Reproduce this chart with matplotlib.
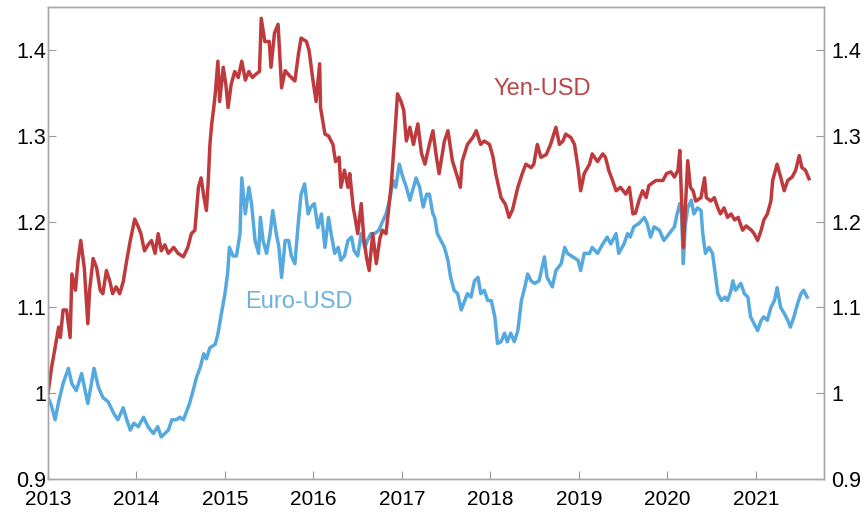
import matplotlib
matplotlib.use("Agg")
import matplotlib.pyplot as plt

# fractional years and index levels
yen_t = [2013.00, 2013.04, 2013.08, 2013.12, 2013.14, 2013.17, 2013.21, 2013.25, 2013.27, 2013.31,
         2013.34, 2013.37, 2013.41, 2013.45, 2013.47, 2013.51, 2013.55, 2013.59, 2013.62, 2013.66,
         2013.70, 2013.73, 2013.77, 2013.81, 2013.85, 2013.89, 2013.93, 2013.98, 2014.02, 2014.05,
         2014.09, 2014.13, 2014.17, 2014.21, 2014.245, 2014.28, 2014.32, 2014.36, 2014.42, 2014.47,
         2014.53, 2014.58, 2014.62, 2014.66, 2014.70, 2014.73, 2014.76, 2014.79, 2014.81, 2014.83,
         2014.85, 2014.87, 2014.89, 2014.92, 2014.94, 2014.98, 2015.01, 2015.035, 2015.07, 2015.11,
         2015.15, 2015.19, 2015.23, 2015.27, 2015.31, 2015.35, 2015.39, 2015.41, 2015.45, 2015.50,
         2015.52, 2015.56, 2015.60, 2015.64, 2015.68, 2015.73, 2015.79, 2015.83, 2015.86, 2015.92,
         2015.95, 2015.99, 2016.03, 2016.07, 2016.08, 2016.13, 2016.17, 2016.22, 2016.25, 2016.29,
         2016.31, 2016.35, 2016.39, 2016.41, 2016.45, 2016.47, 2016.50, 2016.54, 2016.57, 2016.60,
         2016.63, 2016.67, 2016.71, 2016.75, 2016.78, 2016.82, 2016.84, 2016.88, 2016.92, 2016.95,
         2016.99, 2017.02, 2017.05, 2017.09, 2017.13, 2017.18, 2017.22, 2017.26, 2017.31, 2017.35,
         2017.39, 2017.42, 2017.48, 2017.52, 2017.57, 2017.63, 2017.66, 2017.68, 2017.74, 2017.80,
         2017.84, 2017.89, 2017.93, 2017.99, 2018.03, 2018.06, 2018.12, 2018.17, 2018.21, 2018.25,
         2018.31, 2018.36, 2018.40, 2018.46, 2018.49, 2018.53, 2018.57, 2018.63, 2018.68, 2018.74,
         2018.78, 2018.82, 2018.85, 2018.91, 2018.95, 2018.99, 2019.02, 2019.06, 2019.12, 2019.15,
         2019.21, 2019.27, 2019.30, 2019.34, 2019.38, 2019.42, 2019.47, 2019.53, 2019.57, 2019.61,
         2019.64, 2019.68, 2019.72, 2019.76, 2019.79, 2019.87, 2019.95, 2019.99, 2020.04, 2020.08,
         2020.12, 2020.14, 2020.16, 2020.18, 2020.20, 2020.23, 2020.26, 2020.29, 2020.32, 2020.38,
         2020.42, 2020.44, 2020.49, 2020.53, 2020.57, 2020.60, 2020.64, 2020.68, 2020.72, 2020.76,
         2020.80, 2020.85, 2020.89, 2020.95, 2020.98, 2021.02, 2021.06, 2021.09, 2021.13, 2021.17,
         2021.19, 2021.24, 2021.28, 2021.32, 2021.36, 2021.41, 2021.45, 2021.49, 2021.52, 2021.56,
         2021.60]
yen_v = [1.000, 1.030, 1.053, 1.077, 1.065, 1.097, 1.097, 1.065, 1.139, 1.120,
         1.155, 1.178, 1.146, 1.081, 1.120, 1.157, 1.146, 1.120, 1.116, 1.143,
         1.130, 1.116, 1.124, 1.116, 1.130, 1.155, 1.178, 1.203, 1.194, 1.186,
         1.166, 1.173, 1.178, 1.163, 1.186, 1.166, 1.173, 1.163, 1.170, 1.163,
         1.159, 1.170, 1.186, 1.190, 1.240, 1.251, 1.230, 1.213, 1.245, 1.290,
         1.314, 1.330, 1.349, 1.387, 1.340, 1.380, 1.360, 1.333, 1.360, 1.375,
         1.368, 1.387, 1.365, 1.375, 1.368, 1.372, 1.375, 1.437, 1.410, 1.410,
         1.380, 1.420, 1.430, 1.356, 1.376, 1.370, 1.364, 1.395, 1.414, 1.410,
         1.400, 1.368, 1.340, 1.384, 1.333, 1.302, 1.300, 1.290, 1.270, 1.275,
         1.240, 1.260, 1.240, 1.256, 1.216, 1.205, 1.186, 1.221, 1.180, 1.158,
         1.143, 1.186, 1.151, 1.180, 1.190, 1.186, 1.205, 1.244, 1.302, 1.349,
         1.340, 1.330, 1.294, 1.310, 1.290, 1.314, 1.280, 1.267, 1.290, 1.306,
         1.275, 1.256, 1.294, 1.306, 1.271, 1.251, 1.240, 1.270, 1.290, 1.298,
         1.306, 1.290, 1.294, 1.290, 1.275, 1.256, 1.228, 1.220, 1.205, 1.214,
         1.240, 1.256, 1.267, 1.263, 1.267, 1.290, 1.275, 1.278, 1.290, 1.310,
         1.290, 1.294, 1.302, 1.298, 1.290, 1.263, 1.236, 1.256, 1.267, 1.279,
         1.270, 1.279, 1.275, 1.259, 1.248, 1.236, 1.240, 1.232, 1.240, 1.209,
         1.210, 1.225, 1.236, 1.228, 1.242, 1.248, 1.248, 1.256, 1.258, 1.252,
         1.260, 1.283, 1.225, 1.170, 1.210, 1.271, 1.240, 1.236, 1.224, 1.228,
         1.251, 1.228, 1.224, 1.228, 1.216, 1.209, 1.216, 1.205, 1.209, 1.202,
         1.205, 1.190, 1.195, 1.190, 1.186, 1.178, 1.190, 1.202, 1.209, 1.224,
         1.248, 1.267, 1.252, 1.236, 1.248, 1.252, 1.260, 1.277, 1.263, 1.260,
         1.250]

eur_t = [2013.00, 2013.04, 2013.08, 2013.12, 2013.17, 2013.23, 2013.27, 2013.32, 2013.38, 2013.42,
         2013.45, 2013.49, 2013.52, 2013.57, 2013.62, 2013.68, 2013.74, 2013.79, 2013.85, 2013.89,
         2013.93, 2013.97, 2014.02, 2014.08, 2014.13, 2014.19, 2014.24, 2014.28, 2014.32, 2014.36,
         2014.40, 2014.45, 2014.49, 2014.53, 2014.57, 2014.60, 2014.64, 2014.68, 2014.72, 2014.76,
         2014.79, 2014.83, 2014.89, 2014.92, 2014.96, 2015.00, 2015.03, 2015.05, 2015.09, 2015.13,
         2015.17, 2015.19, 2015.23, 2015.27, 2015.30, 2015.34, 2015.38, 2015.40, 2015.43, 2015.47,
         2015.51, 2015.54, 2015.58, 2015.61, 2015.64, 2015.68, 2015.72, 2015.75, 2015.79, 2015.83,
         2015.86, 2015.90, 2015.94, 2015.97, 2016.01, 2016.05, 2016.09, 2016.13, 2016.17, 2016.20,
         2016.24, 2016.28, 2016.31, 2016.35, 2016.39, 2016.43, 2016.46, 2016.50, 2016.54, 2016.58,
         2016.61, 2016.65, 2016.69, 2016.74, 2016.78, 2016.82, 2016.86, 2016.90, 2016.93, 2016.97,
         2017.01, 2017.05, 2017.09, 2017.13, 2017.16, 2017.20, 2017.24, 2017.28, 2017.31, 2017.35,
         2017.37, 2017.40, 2017.44, 2017.48, 2017.52, 2017.55, 2017.59, 2017.63, 2017.67, 2017.71,
         2017.74, 2017.78, 2017.82, 2017.86, 2017.89, 2017.93, 2017.97, 2018.01, 2018.05, 2018.08,
         2018.12, 2018.16, 2018.19, 2018.23, 2018.27, 2018.31, 2018.35, 2018.39, 2018.42, 2018.46,
         2018.50, 2018.55, 2018.61, 2018.64, 2018.70, 2018.74, 2018.80, 2018.84, 2018.87, 2018.93,
         2018.99, 2019.02, 2019.06, 2019.12, 2019.15, 2019.21, 2019.27, 2019.32, 2019.36, 2019.42,
         2019.45, 2019.51, 2019.55, 2019.58, 2019.62, 2019.68, 2019.74, 2019.77, 2019.81, 2019.85,
         2019.91, 2019.96, 2020.02, 2020.08, 2020.11, 2020.14, 2020.16, 2020.18, 2020.20, 2020.23,
         2020.27, 2020.30, 2020.34, 2020.38, 2020.40, 2020.43, 2020.47, 2020.51, 2020.54, 2020.57,
         2020.61, 2020.65, 2020.68, 2020.72, 2020.74, 2020.77, 2020.83, 2020.87, 2020.91, 2020.94,
         2020.98, 2021.02, 2021.06, 2021.09, 2021.13, 2021.17, 2021.21, 2021.24, 2021.28, 2021.32,
         2021.36, 2021.39, 2021.43, 2021.47, 2021.51, 2021.54, 2021.58]
eur_v = [0.995, 0.985, 0.969, 0.990, 1.011, 1.029, 1.011, 1.003, 1.023, 1.003,
         0.988, 1.011, 1.029, 1.007, 0.995, 0.990, 0.977, 0.969, 0.983, 0.969,
         0.957, 0.965, 0.961, 0.972, 0.961, 0.953, 0.961, 0.949, 0.953, 0.957,
         0.969, 0.969, 0.972, 0.969, 0.980, 0.988, 1.003, 1.019, 1.030, 1.046,
         1.040, 1.053, 1.057, 1.069, 1.093, 1.116, 1.140, 1.170, 1.160, 1.160,
         1.186, 1.251, 1.209, 1.240, 1.221, 1.178, 1.163, 1.205, 1.178, 1.163,
         1.186, 1.213, 1.186, 1.170, 1.135, 1.178, 1.178, 1.160, 1.151, 1.200,
         1.232, 1.244, 1.209, 1.217, 1.221, 1.193, 1.209, 1.170, 1.205, 1.186,
         1.163, 1.170, 1.155, 1.160, 1.178, 1.182, 1.166, 1.160, 1.186, 1.170,
         1.178, 1.186, 1.186, 1.190, 1.200, 1.209, 1.225, 1.248, 1.240, 1.267,
         1.252, 1.240, 1.225, 1.240, 1.251, 1.240, 1.217, 1.232, 1.232, 1.209,
         1.205, 1.186, 1.178, 1.170, 1.155, 1.135, 1.120, 1.116, 1.097, 1.108,
         1.116, 1.112, 1.131, 1.135, 1.116, 1.120, 1.108, 1.108, 1.089, 1.058,
         1.060, 1.070, 1.060, 1.070, 1.060, 1.073, 1.108, 1.124, 1.139, 1.131,
         1.128, 1.131, 1.159, 1.135, 1.124, 1.143, 1.151, 1.170, 1.163, 1.159,
         1.155, 1.143, 1.163, 1.163, 1.170, 1.163, 1.174, 1.182, 1.174, 1.186,
         1.163, 1.174, 1.186, 1.182, 1.194, 1.198, 1.205, 1.198, 1.182, 1.194,
         1.190, 1.178, 1.186, 1.194, 1.209, 1.221, 1.209, 1.151, 1.194, 1.216,
         1.225, 1.209, 1.216, 1.213, 1.186, 1.163, 1.170, 1.163, 1.140, 1.116,
         1.108, 1.112, 1.108, 1.120, 1.131, 1.120, 1.128, 1.116, 1.112, 1.089,
         1.081, 1.073, 1.085, 1.089, 1.085, 1.100, 1.108, 1.123, 1.100, 1.093,
         1.085, 1.077, 1.089, 1.104, 1.116, 1.120, 1.112]

years = list(range(2013, 2022))
yticks = [0.9, 1.0, 1.1, 1.2, 1.3, 1.4]
ytick_labels = ["0.9", "1", "1.1", "1.2", "1.3", "1.4"]

YEN_COLOR = "#bf3a3c"
EUR_COLOR = "#55a9de"
GRID_GRAY = "#9a9a9a"

plt.rcParams["font.family"] = ["Liberation Sans", "DejaVu Sans"]

fig = plt.figure(figsize=(8.65, 5.13), dpi=100)
ax = fig.add_axes([0.0555, 0.0663, 0.8971, 0.9197])

ax.plot(eur_t, eur_v, color=EUR_COLOR, lw=2.5, solid_joinstyle="round")
ax.plot(yen_t, yen_v, color=YEN_COLOR, lw=2.5, solid_joinstyle="round")

ax.text(2018.59, 1.355, "Yen-USD", color="#b9474a", fontsize=17, ha="center", va="center")
ax.text(2015.83, 1.106, "Euro-USD", color="#6cb2e0", fontsize=17, ha="center", va="center")

ax.set_xlim(2013, 2021.77)
ax.set_ylim(0.9, 1.45)
ax.set_xticks(years)
ax.set_xticklabels([str(y) for y in years])
ax.set_yticks(yticks)
ax.set_yticklabels(ytick_labels)

ax2 = ax.twinx()
ax2.set_ylim(0.9, 1.45)
ax2.set_yticks(yticks)
ax2.set_yticklabels(ytick_labels)

for a in (ax, ax2):
    for s in a.spines.values():
        s.set_color("#a8a8a8")
        s.set_linewidth(1.0)

ax.tick_params(axis="x", direction="in", length=6, color=GRID_GRAY, labelsize=15, pad=8)
ax.tick_params(axis="y", direction="in", length=6, color=GRID_GRAY, labelsize=15.5, pad=1)
ax2.tick_params(axis="y", direction="in", length=6, color=GRID_GRAY, labelsize=15.5, pad=5)

fig.savefig("out.png", dpi=100)
